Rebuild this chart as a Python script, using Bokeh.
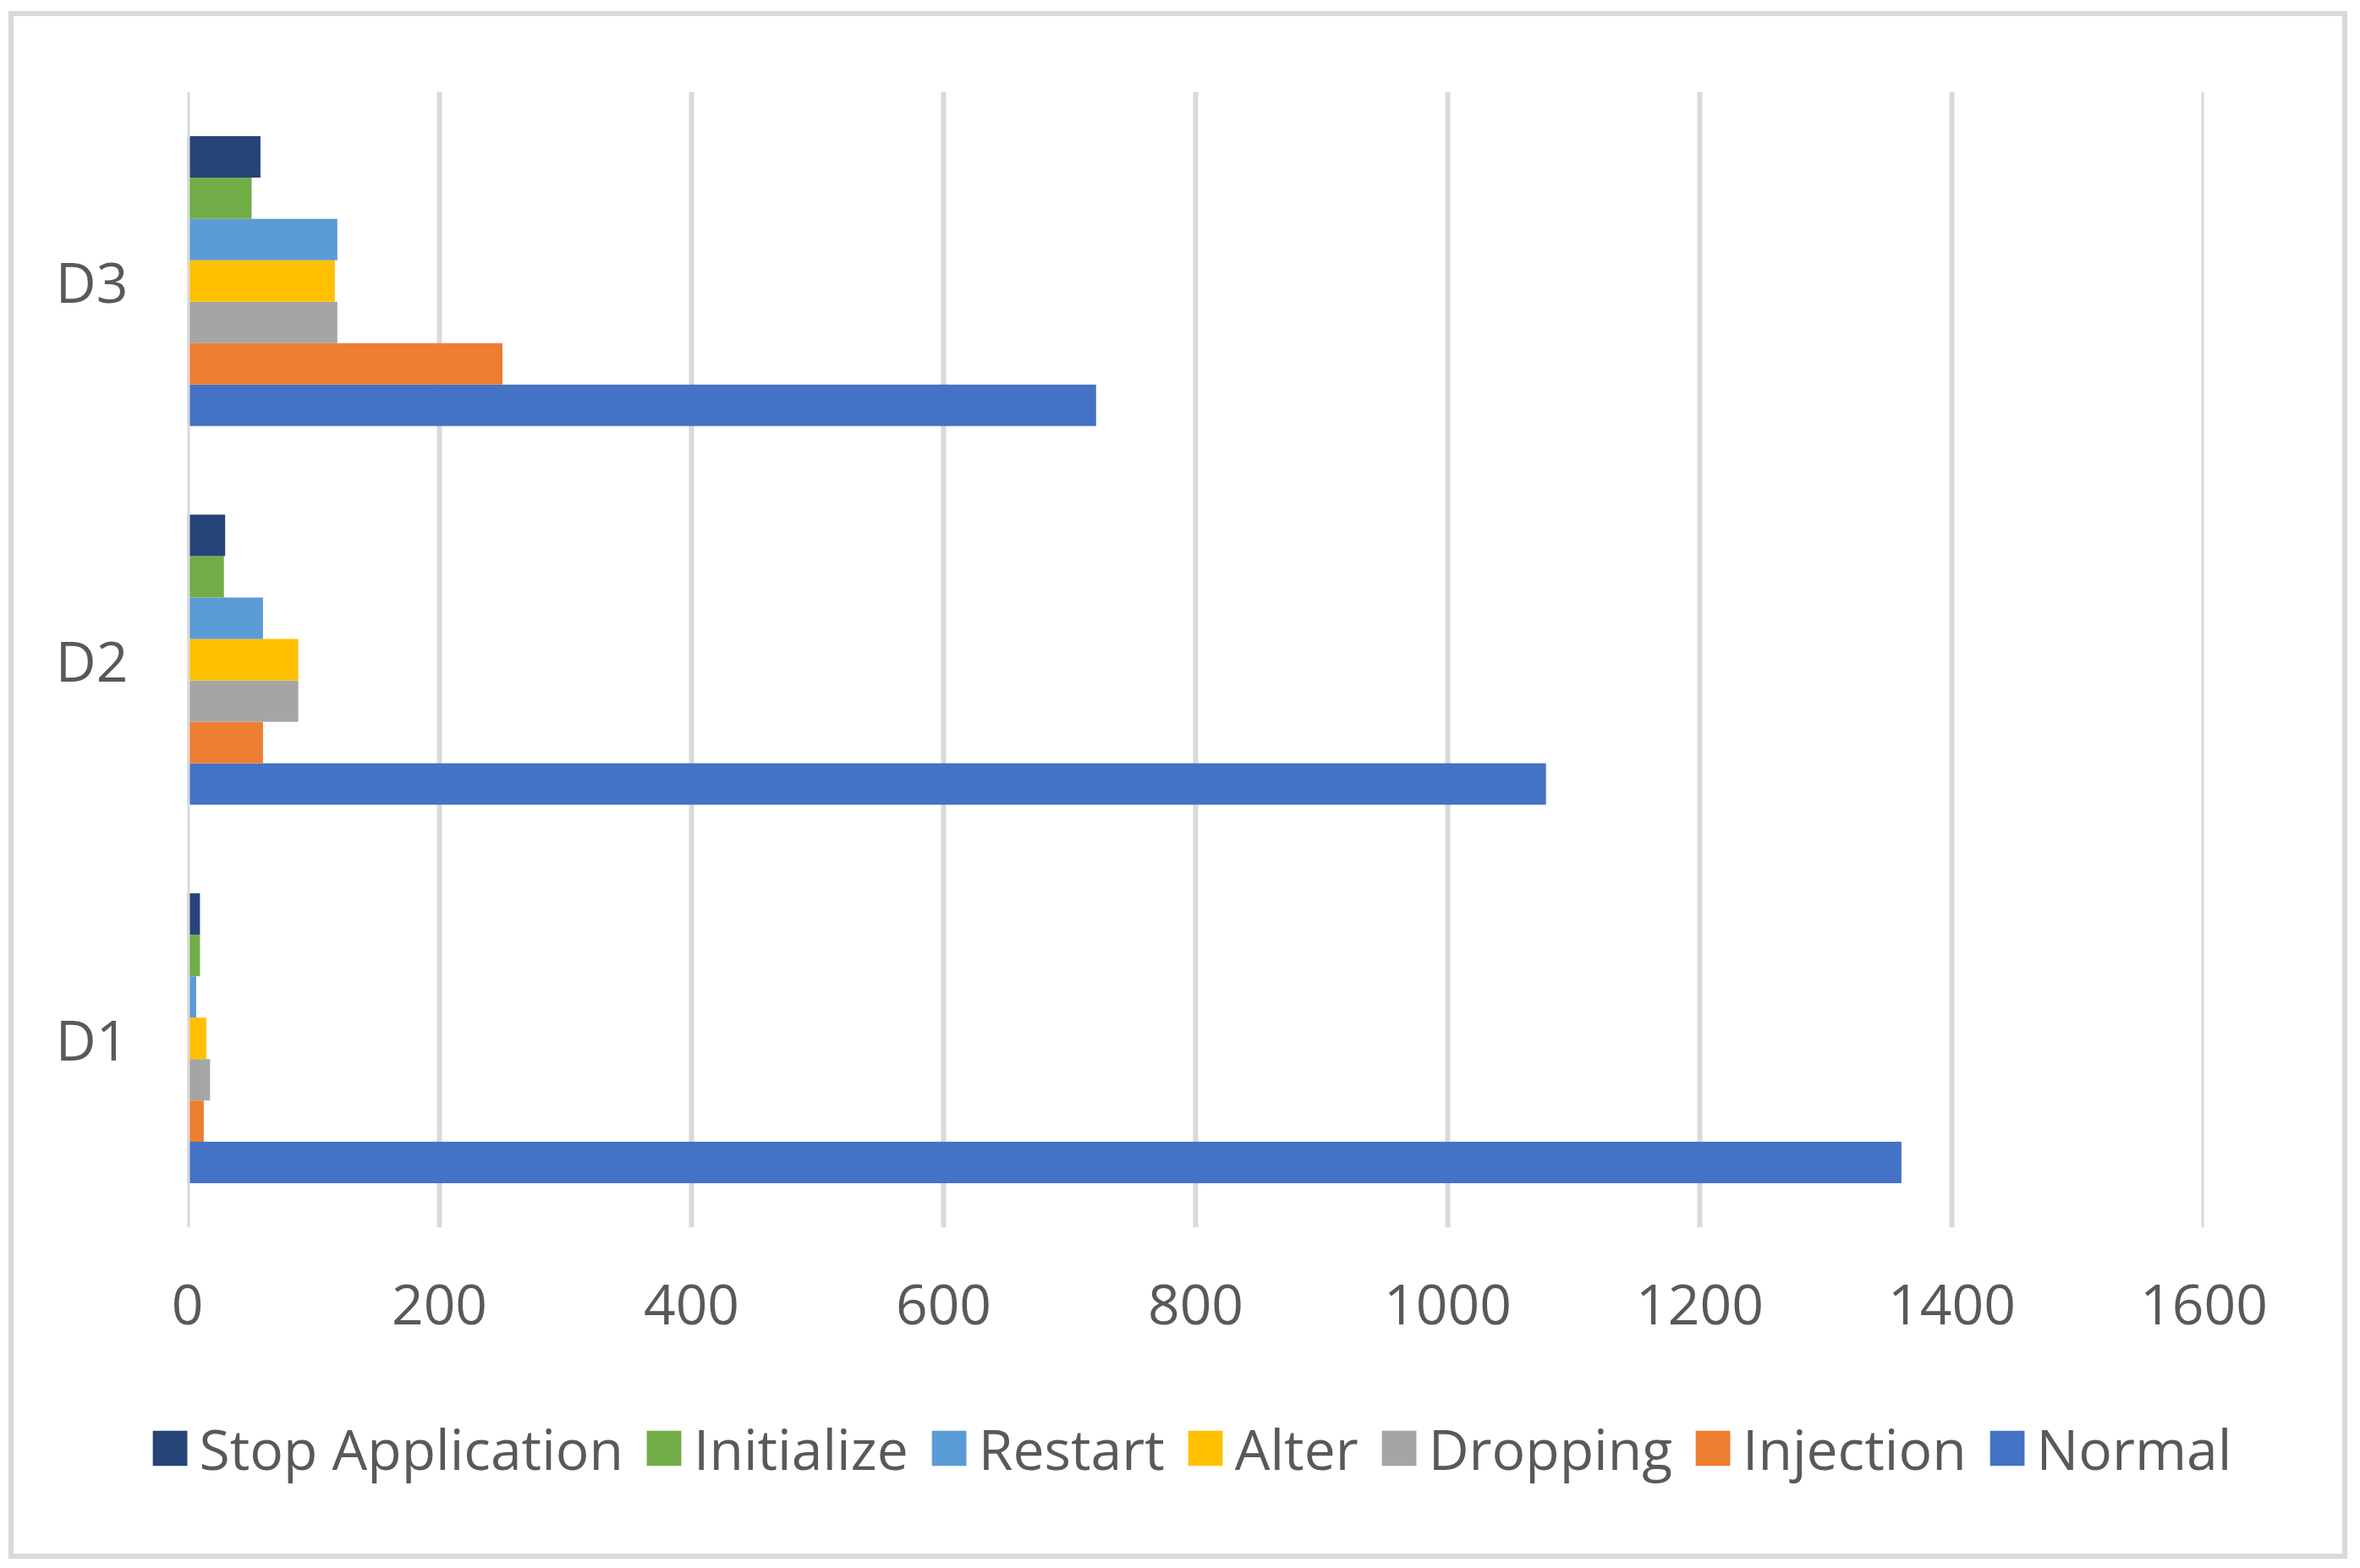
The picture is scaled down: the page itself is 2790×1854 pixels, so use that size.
from bokeh.plotting import figure
from bokeh.models import FactorRange, Range1d, Legend, LegendItem, Span, ColumnDataSource
from bokeh.layouts import column
from bokeh.transform import dodge
from bokeh.embed import file_html
from bokeh.resources import INLINE

# ---- data ----
datasets = ["D1", "D2", "D3"]
normal = [1360, 1078, 721]
injection = [13, 60, 250]
dropping = [18, 88, 119]
alter = [15, 88, 117]
restart = [7, 60, 119]
initialize = [10, 29, 51]
stop_application = [10, 30, 58]
x_ticks = [0, 200, 400, 600, 800, 1000, 1200, 1400, 1600]

# bottom-to-top order within each group
series_names = ["Normal", "Injection", "Dropping", "Alter", "Restart", "Initialize", "Stop Application"]
series_values = [normal, injection, dropping, alter, restart, initialize, stop_application]
series_colors = ["#4472C4", "#ED7D31", "#A5A5A5", "#FFC000", "#5B9BD5", "#70AD47", "#264478"]
legend_order = ["Stop Application", "Initialize", "Restart", "Alter", "Dropping", "Injection", "Normal"]

FONT = "Open Sans"
TEXT_COLOR = "#595959"
GRID = "#D9D9D9"
FS = "66px"

W = 2785
H1, H2 = 1618, 232

# ---- main chart ----
p = figure(width=W, height=H1,
           y_range=FactorRange(*datasets), x_range=Range1d(0, 1600),
           output_backend="svg", toolbar_location=None,
           min_border_left=221, min_border_right=180,
           min_border_top=105, min_border_bottom=170,
           outline_line_color=None, border_fill_alpha=0,
           background_fill_color="white", frame_align=False)

bar_h = 0.1094
for i, (name, vals, col) in enumerate(zip(series_names, series_values, series_colors)):
    src = ColumnDataSource(dict(dataset=datasets, value=vals))
    off = (i - 3) * bar_h
    p.hbar(y=dodge("dataset", off, range=p.y_range), left=0, right="value",
           height=bar_h, source=src, fill_color=col, line_color=None)

# zero line on top, and the last gridline at the frame edge
p.add_layout(Span(location=0, dimension="height", line_color=GRID, line_width=6, level="overlay"))
p.add_layout(Span(location=x_ticks[-1], dimension="height", line_color=GRID, line_width=6, level="underlay"))

p.xgrid.ticker = x_ticks
p.xgrid.grid_line_color = GRID
p.xgrid.grid_line_width = 6
p.ygrid.grid_line_color = None

p.xaxis.ticker = x_ticks
for ax in (p.xaxis[0], p.yaxis[0]):
    ax.axis_line_color = None
    ax.major_tick_line_color = None
    ax.minor_tick_line_color = None
    ax.major_label_text_font = FONT
    ax.major_label_text_font_size = FS
    ax.major_label_text_color = TEXT_COLOR
    ax.major_tick_out = 0
    ax.major_tick_in = 0
p.xaxis.major_label_standoff = 67
p.yaxis.major_label_standoff = 70

# ---- legend strip ----
p2 = figure(width=W, height=H2, x_range=Range1d(0, 1), y_range=Range1d(0, 1),
            output_backend="svg", toolbar_location=None,
            min_border_left=28, min_border_right=0, min_border_top=0, min_border_bottom=50,
            outline_line_color=None, border_fill_alpha=0, background_fill_alpha=0,
            frame_align=False)
p2.axis.visible = False
p2.grid.visible = False
legend_renderers = {}
for name, col in zip(series_names, series_colors):
    # legend swatch only: a zero-width bar placed outside the visible range
    swatch = ColumnDataSource(dict(y=[-5.0], right=[0.0]))
    legend_renderers[name] = p2.hbar(y="y", left=0, right="right", height=0.1, source=swatch,
                                     fill_color=col, line_color=None)

legend = Legend(items=[LegendItem(label=n, renderers=[legend_renderers[n]]) for n in legend_order],
                orientation="horizontal", location="center",
                glyph_width=51, glyph_height=52, label_standoff=10, spacing=22,
                padding=0, margin=0, border_line_color=None, background_fill_alpha=0,
                label_text_font=FONT, label_text_font_size=FS, label_text_color=TEXT_COLOR)
p2.add_layout(legend, "center")

layout = column(p, p2, spacing=0,
                styles={"outline": "6px solid #D9D9D9", "outline-offset": "-16px",
                        "margin-top": "3px"})

open("out.html", "w").write(file_html(layout, INLINE))
